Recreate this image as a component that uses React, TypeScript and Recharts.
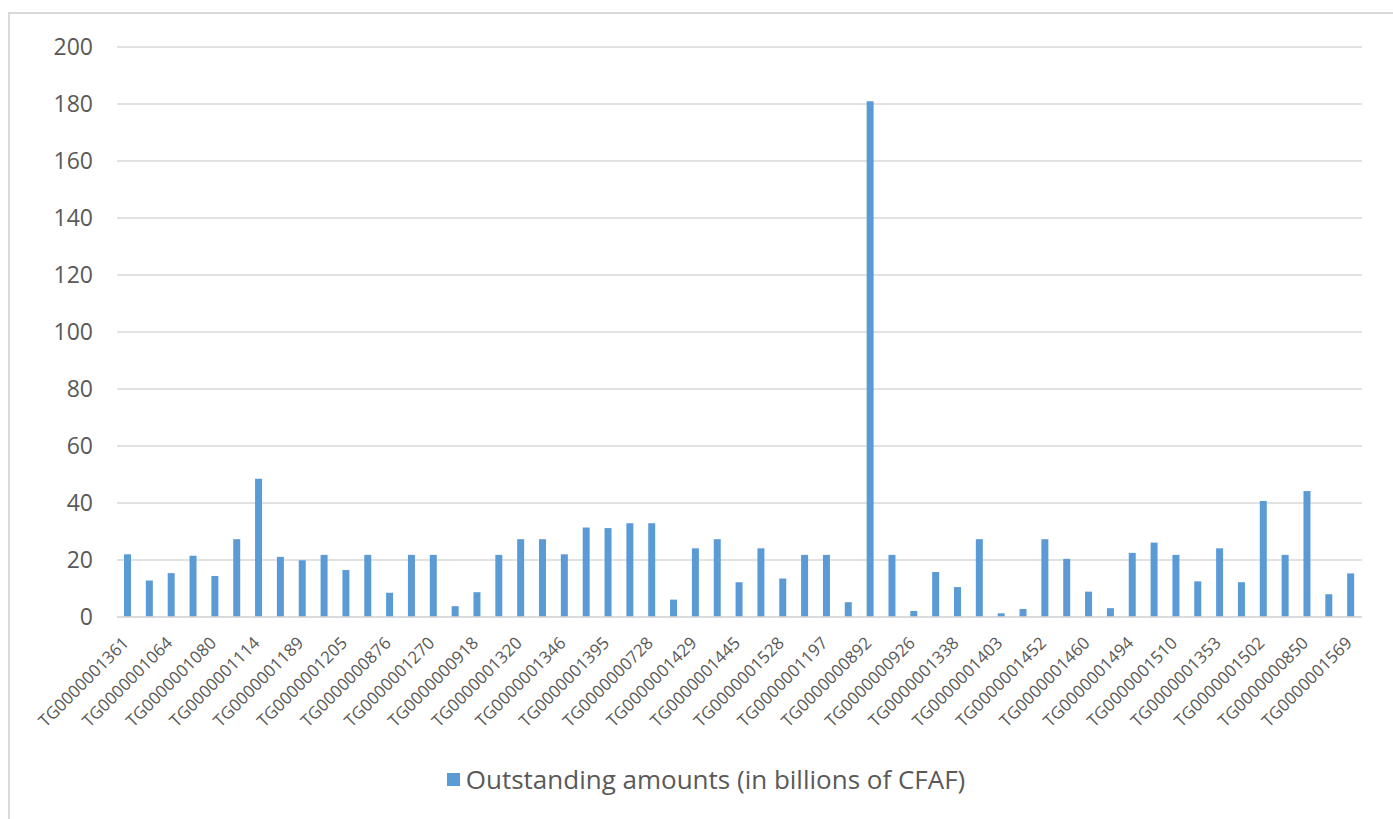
import React from "react";
import { BarChart, Bar, XAxis, YAxis, CartesianGrid, Legend } from "recharts";

const isins = [
  "TG0000001361", "TG0000001379", "TG0000001064", "TG0000001072", "TG0000001080",
  "TG0000001098", "TG0000001114", "TG0000001130", "TG0000001189", "TG0000001155",
  "TG0000001205", "TG0000001213", "TG0000000876", "TG0000001247", "TG0000001270",
  "TG0000001288", "TG0000000918", "TG0000000934", "TG0000001320", "TG0000001312",
  "TG0000001346", "TG0000001387", "TG0000001395", "TG0000001411", "TG0000000728",
  "TG0000000744", "TG0000001429", "TG0000001437", "TG0000001445", "TG0000001486",
  "TG0000001528", "TG0000001536", "TG0000001197", "TG0000001221", "TG0000000892",
  "TG0000000900", "TG0000000926", "TG0000000942", "TG0000001338", "TG0000001296",
  "TG0000001403", "TG0000001419", "TG0000001452", "TG0000001478", "TG0000001460",
  "TG0000001544", "TG0000001494", "TG0000001551", "TG0000001510", "TG0000001262",
  "TG0000001353", "TG0000001239", "TG0000001502", "TG0000000868", "TG0000000850",
  "TG0000001577", "TG0000001569",
];

const outstanding = [
  22, 12.8, 15.4, 21.5, 14.4, 27.3, 48.5, 21.1, 19.9, 21.8,
  16.5, 21.8, 8.5, 21.8, 21.8, 3.8, 8.7, 21.8, 27.3, 27.3,
  22.0, 31.4, 31.2, 32.9, 32.9, 6.1, 24.1, 27.3, 12.2, 24.1,
  13.5, 21.8, 21.8, 5.2, 181, 21.8, 2.1, 15.8, 10.5, 27.3,
  1.3, 2.8, 27.3, 20.4, 8.9, 3.1, 22.5, 26.1, 21.8, 12.5,
  24.1, 12.2, 40.7, 21.8, 44.2, 8.0, 15.3,
];

const yTicks = [0, 20, 40, 60, 80, 100, 120, 140, 160, 180, 200];

const seriesName = "Outstanding amounts (in billions of CFAF)";

const data = isins.map((name, i) => ({ name, value: outstanding[i] }));

const FONT = "'Open Sans', sans-serif";
const TEXT = "#595959";
const BLUE = "#5b9bd5";

function XTick(props: any) {
  const { x, y, payload } = props;
  return (
    <g transform={`translate(${x + 2},${y + 27})`}>
      <text
        x={0}
        y={0}
        textAnchor="end"
        transform="rotate(-45)"
        fill={TEXT}
        fontSize={17}
        fontFamily={FONT}
      >
        {payload.value}
      </text>
    </g>
  );
}

function LegendBox() {
  return (
    <div
      style={{
        height: 55,
        display: "flex",
        justifyContent: "center",
        alignItems: "flex-start",
        paddingTop: 5,
        paddingLeft: 42,
        boxSizing: "border-box",
      }}
    >
      <div style={{ display: "flex", alignItems: "center", height: 34 }}>
        <span style={{ width: 13, height: 13, background: BLUE, marginRight: 6, display: "inline-block" }} />
        <span style={{ fontFamily: FONT, fontSize: 26, color: TEXT }}>{seriesName}</span>
      </div>
    </div>
  );
}

export default function App() {
  return (
    <div style={{ position: "fixed", left: 0, top: 0, width: 1393, height: 819, overflow: "hidden", background: "#fff" }}>
      <div
        style={{
          position: "absolute",
          left: 8,
          top: 12,
          width: 1450,
          height: 900,
          border: "2px solid #d9d9d9",
        }}
      />
      <div style={{ position: "absolute", left: 8, top: 12 }}>
        <BarChart
          width={1390}
          height={800}
          data={data}
          margin={{ top: 35, right: 36, left: 0, bottom: 0 }}
          barSize={7}
        >
          <CartesianGrid vertical={false} stroke="#d9d9d9" strokeWidth={1.5} />
          <XAxis
            dataKey="name"
            interval={1}
            height={140}
            tick={<XTick />}
            tickLine={false}
            tickSize={0}
            tickMargin={0}
            axisLine={{ stroke: "#d9d9d9", strokeWidth: 1.5 }}
          />
          <YAxis
            domain={[0, 200]}
            ticks={yTicks}
            width={109}
            axisLine={false}
            tickLine={false}
            tickSize={0}
            tickMargin={24}
            tick={{ fill: TEXT, fontSize: 23, fontFamily: FONT }}
          />
          <Legend verticalAlign="bottom" height={55} content={<LegendBox />} />
          <Bar dataKey="value" name={seriesName} fill={BLUE} isAnimationActive={false} />
        </BarChart>
      </div>
    </div>
  );
}
